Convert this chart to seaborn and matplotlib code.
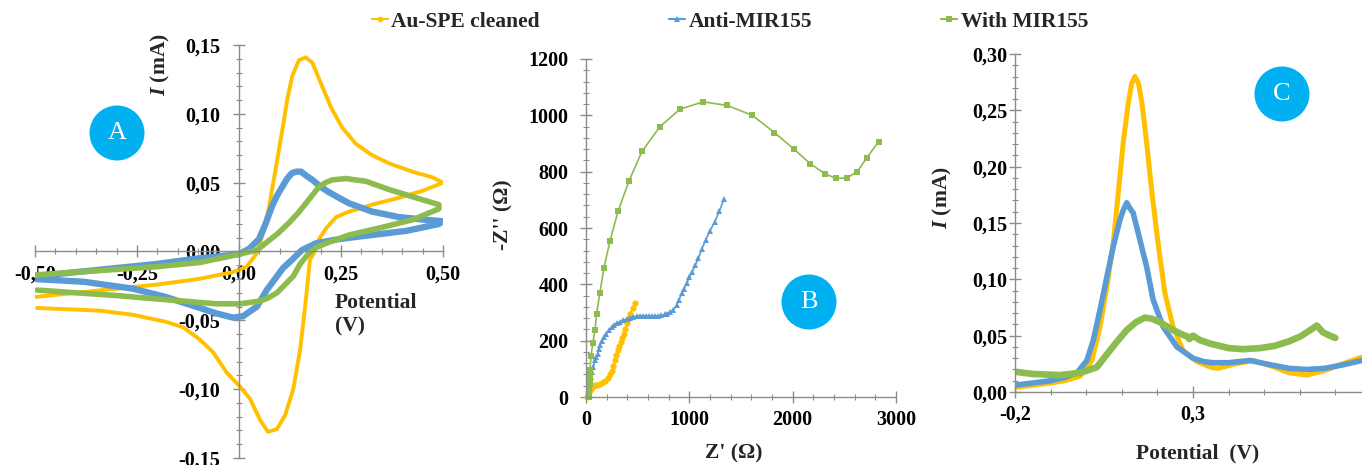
import matplotlib
matplotlib.use("Agg")
import matplotlib.pyplot as plt
import seaborn as sns
from matplotlib.ticker import MultipleLocator, FuncFormatter, FixedLocator
from matplotlib.patches import Ellipse
from matplotlib.lines import Line2D

# ---------------- data ----------------
series_names = ["Au-SPE cleaned", "Anti-MIR155", "With MIR155"]

# Panel A : cyclic voltammetry (potential V, current mA) - anodic then cathodic branch
cv_au_x = [-0.50, -0.40, -0.30, -0.20, -0.10, -0.015, 0.019, 0.044, 0.060, 0.074, 0.091, 0.106, 0.118, 0.130,
           0.147, 0.164, 0.180, 0.201, 0.225, 0.253, 0.287, 0.326, 0.368, 0.425, 0.473, 0.50,
           0.449, 0.392, 0.326, 0.270, 0.238, 0.214, 0.196, 0.184, 0.174, 0.162, 0.150, 0.133, 0.113, 0.093,
           0.071, 0.051, 0.027, 0.002, -0.030, -0.064, -0.096, -0.137, -0.18, -0.26, -0.34, -0.495]
cv_au_y = [-0.033, -0.030, -0.027, -0.024, -0.020, -0.015, -0.011, -0.001, 0.014, 0.033, 0.062, 0.088, 0.110,
           0.127, 0.139, 0.141, 0.137, 0.122, 0.105, 0.090, 0.078, 0.070, 0.064, 0.058, 0.054, 0.050,
           0.044, 0.039, 0.034, 0.029, 0.025, 0.017, 0.009, -0.001, -0.006, -0.040, -0.071, -0.100, -0.119,
           -0.129, -0.131, -0.122, -0.107, -0.098, -0.088, -0.073, -0.064, -0.055, -0.051, -0.046, -0.043, -0.041]
cv_anti_x = [-0.50, -0.40, -0.30, -0.20, -0.10, 0.00, 0.025, 0.049, 0.065, 0.081, 0.094, 0.106, 0.118, 0.130,
             0.141, 0.152, 0.165, 0.180, 0.200, 0.221, 0.245, 0.270, 0.326, 0.392, 0.458, 0.50,
             0.49, 0.41, 0.326, 0.245, 0.189, 0.154, 0.130, 0.108, 0.088, 0.068, 0.044, 0.010, -0.015, -0.055,
             -0.096, -0.18, -0.26, -0.38, -0.50]
cv_anti_y = [-0.018, -0.015, -0.012, -0.009, -0.005, -0.002, 0.002, 0.009, 0.020, 0.033, 0.041, 0.047, 0.053,
             0.057, 0.058, 0.058, 0.055, 0.052, 0.047, 0.043, 0.039, 0.035, 0.029, 0.025, 0.023, 0.022,
             0.020, 0.015, 0.012, 0.009, 0.006, 0.001, -0.006, -0.012, -0.020, -0.028, -0.040, -0.047, -0.048,
             -0.045, -0.041, -0.033, -0.027, -0.022, -0.020]
cv_with_x = [-0.50, -0.40, -0.30, -0.20, -0.096, -0.015, 0.044, 0.065, 0.095, 0.123, 0.145, 0.164, 0.180,
             0.196, 0.212, 0.228, 0.262, 0.311, 0.368, 0.434, 0.49,
             0.49, 0.425, 0.343, 0.270, 0.214, 0.190, 0.172, 0.150, 0.133, 0.113, 0.093, 0.070, 0.051, 0.002,
             -0.055, -0.096, -0.18, -0.30, -0.40, -0.495]
cv_with_y = [-0.017, -0.015, -0.013, -0.011, -0.008, -0.003, 0.001, 0.006, 0.013, 0.021, 0.028, 0.035, 0.041,
             0.047, 0.050, 0.052, 0.053, 0.051, 0.045, 0.039, 0.034,
             0.031, 0.023, 0.017, 0.012, 0.006, 0.003, -0.001, -0.009, -0.018, -0.024, -0.030, -0.034, -0.036,
             -0.038, -0.038, -0.037, -0.035, -0.032, -0.030, -0.028]

# Panel B : Nyquist plot (Z' ohm, -Z'' ohm)
eis_au_x = [5, 15, 25, 35, 45, 55, 70, 90, 110, 135, 160, 185, 210, 232, 250, 265, 281, 295, 306, 320, 335,
            350, 368, 381, 394, 410, 426, 450, 474]
eis_au_y = [0, 8, 16, 24, 30, 34, 38, 41, 44, 47, 52, 58, 66, 80, 94, 111, 130, 148, 166, 181, 196, 210, 225,
            243, 261, 278, 296, 315, 334]
eis_anti_x = [20, 30, 40, 50, 60, 71, 87, 100, 113, 124, 135, 150, 174, 198, 223, 247, 271, 300, 329, 362,
              394, 426, 458, 490, 520, 550, 580, 610, 640, 670, 700, 730, 760, 781, 813, 845, 877, 900, 926,
              950, 974, 1000, 1029, 1058, 1087, 1120, 1158, 1200, 1248, 1290, 1335]
eis_anti_y = [0, 20, 45, 70, 90, 107, 130, 142, 154, 170, 184, 200, 213, 225, 237, 247, 255, 262, 267, 272,
              276, 280, 285, 287, 288, 288, 288, 288, 288, 288, 288, 290, 293, 296, 302, 308, 326, 345, 368,
              385, 403, 425, 445, 468, 492, 525, 557, 590, 623, 660, 702]
eis_with_x = [25, 28, 30, 33, 35, 37, 39, 48, 65, 87, 103, 135, 174, 232, 310, 416, 542, 716, 910, 1135,
              1368, 1610, 1823, 2010, 2171, 2310, 2419, 2523, 2623, 2719, 2832]
eis_with_y = [0, 12, 25, 40, 55, 75, 95, 145, 190, 237, 296, 371, 459, 554, 659, 767, 872, 960, 1022, 1048,
              1035, 1000, 939, 881, 828, 793, 776, 778, 799, 850, 907]

# Panel C : differential pulse voltammetry (potential V, current mA)
dpv_au_x = [-0.2, -0.15, -0.10, -0.06, -0.017, 0.016, 0.039, 0.058, 0.076, 0.090, 0.104, 0.118, 0.128, 0.137,
            0.147, 0.157, 0.170, 0.185, 0.202, 0.221, 0.244, 0.272, 0.311, 0.35, 0.37, 0.42, 0.47, 0.52, 0.57,
            0.62, 0.67, 0.72, 0.775]
dpv_au_y = [0.004, 0.006, 0.008, 0.010, 0.014, 0.028, 0.058, 0.093, 0.132, 0.176, 0.221, 0.256, 0.274, 0.280,
            0.274, 0.256, 0.221, 0.176, 0.132, 0.088, 0.058, 0.037, 0.027, 0.022, 0.021, 0.025, 0.028, 0.023,
            0.017, 0.015, 0.019, 0.025, 0.031]
dpv_anti_x = [-0.2, -0.15, -0.10, -0.06, -0.026, 0.002, 0.020, 0.039, 0.058, 0.076, 0.095, 0.105, 0.114,
              0.123, 0.132, 0.151, 0.170, 0.188, 0.216, 0.255, 0.300, 0.33, 0.356, 0.40, 0.46, 0.52, 0.57,
              0.62, 0.67, 0.72, 0.775]
dpv_anti_y = [0.006, 0.008, 0.010, 0.013, 0.017, 0.028, 0.046, 0.073, 0.102, 0.129, 0.153, 0.162, 0.168,
              0.163, 0.159, 0.135, 0.111, 0.082, 0.058, 0.040, 0.030, 0.027, 0.026, 0.026, 0.028, 0.024,
              0.021, 0.020, 0.021, 0.024, 0.028]
dpv_with_x = [-0.2, -0.15, -0.073, -0.017, 0.030, 0.067, 0.090, 0.114, 0.140, 0.165, 0.185, 0.207, 0.244,
              0.270, 0.286, 0.29, 0.30, 0.32, 0.348, 0.40, 0.44, 0.49, 0.53, 0.57, 0.60, 0.63, 0.648, 0.665,
              0.685, 0.70]
dpv_with_y = [0.018, 0.016, 0.015, 0.017, 0.022, 0.037, 0.046, 0.055, 0.062, 0.066, 0.065, 0.062, 0.055,
              0.051, 0.049, 0.047, 0.050, 0.046, 0.043, 0.039, 0.038, 0.039, 0.041, 0.045, 0.049, 0.055,
              0.059, 0.053, 0.050, 0.048]

# ---------------- style ----------------
sns.set_theme(style="white")
plt.rcParams['font.family'] = ['Liberation Serif', 'DejaVu Serif']
plt.rcParams['font.weight'] = 'bold'
plt.rcParams['mathtext.fontset'] = 'custom'
plt.rcParams['mathtext.it'] = 'Liberation Serif:italic:bold'
plt.rcParams['mathtext.rm'] = 'Liberation Serif:bold'

ORANGE = '#FFC000'
BLUE = '#5B9BD5'
GREEN = '#8CBB4E'
AXC = '#8C8C8C'
BADGE = '#00B0F0'
TICKFS = 14.5
LABFS = 15.5

W, H = 1362, 465
fig = plt.figure(figsize=(W / 100, H / 100), dpi=100)


def comma(dec):
    def f(v, p):
        if abs(v) < 1e-9:
            v = 0.0
        return f"{v:.{dec}f}".replace('.', ',')
    return FuncFormatter(f)


def style(ax, xpad, ypad):
    for s in ['top', 'right']:
        ax.spines[s].set_visible(False)
    for s in ['left', 'bottom']:
        ax.spines[s].set_color(AXC)
        ax.spines[s].set_linewidth(1.0)
    ax.tick_params(which='major', direction='inout', length=9, width=1, color=AXC,
                   labelsize=TICKFS, labelcolor='black')
    ax.tick_params(which='minor', direction='inout', length=5, width=0.8, color=AXC)
    ax.tick_params(axis='x', which='major', pad=xpad)
    ax.tick_params(axis='y', which='major', pad=ypad)
    ax.tick_params(left=True, bottom=True, which='both')
    ax.set_xlabel('')
    ax.set_ylabel('')
    ax.set_facecolor('none')
    ax.grid(False)


# ---------------- Panel A ----------------
axA = fig.add_axes([35 / W, 7 / H, 408 / W, 413 / H])
sns.lineplot(x=cv_au_x, y=cv_au_y, sort=False, estimator=None, ax=axA, color=ORANGE, linewidth=2.8)
sns.lineplot(x=cv_anti_x, y=cv_anti_y, sort=False, estimator=None, ax=axA, color=BLUE, linewidth=4.6)
sns.lineplot(x=cv_with_x, y=cv_with_y, sort=False, estimator=None, ax=axA, color=GREEN, linewidth=4.0)
axA.set_xlim(-0.5, 0.5)
axA.set_ylim(-0.15, 0.15)
axA.spines['left'].set_position('zero')
axA.spines['bottom'].set_position('zero')
axA.xaxis.set_major_locator(MultipleLocator(0.25))
axA.xaxis.set_minor_locator(MultipleLocator(0.05))
axA.yaxis.set_major_locator(MultipleLocator(0.05))
axA.yaxis.set_minor_locator(MultipleLocator(0.01))
axA.xaxis.set_major_formatter(comma(2))
axA.yaxis.set_major_formatter(comma(2))
style(axA, 5, 9)

fig.text(160 / W, 1 - 65 / H, r"$I$ (mA)", rotation=90, ha='center', va='center', fontsize=LABFS)
fig.text(335 / W, 1 - 293 / H, "Potential\n(V)", ha='left', va='top', fontsize=LABFS, linespacing=1.25)

# ---------------- Panel B ----------------
axB = fig.add_axes([586 / W, 68 / H, 310 / W, 338 / H])
sns.lineplot(x=eis_au_x, y=eis_au_y, sort=False, estimator=None, ax=axB, color=ORANGE, linewidth=1.2,
             marker='o', markersize=4.5, markeredgewidth=0)
sns.lineplot(x=eis_anti_x, y=eis_anti_y, sort=False, estimator=None, ax=axB, color=BLUE, linewidth=1.2,
             marker='^', markersize=4.5, markeredgewidth=0)
sns.lineplot(x=eis_with_x, y=eis_with_y, sort=False, estimator=None, ax=axB, color=GREEN, linewidth=1.2,
             marker='s', markersize=5, markeredgewidth=0)
axB.set_xlim(0, 3000)
axB.set_ylim(0, 1200)
axB.xaxis.set_major_locator(MultipleLocator(1000))
axB.xaxis.set_minor_locator(MultipleLocator(200))
axB.yaxis.set_major_locator(MultipleLocator(200))
axB.yaxis.set_minor_locator(MultipleLocator(40))
axB.xaxis.set_major_formatter(FuncFormatter(lambda v, p: f"{v:.0f}"))
axB.yaxis.set_major_formatter(FuncFormatter(lambda v, p: f"{v:.0f}"))
style(axB, 5, 8)
for ln in axB.lines:
    ln.set_clip_on(False)

fig.text(503 / W, 1 - 215 / H, "-Z'' (Ω)", rotation=90, ha='center', va='center', fontsize=LABFS)
fig.text(734 / W, 1 - 453 / H, "Z' (Ω)", ha='center', va='center', fontsize=LABFS)

# ---------------- Panel C ----------------
axC = fig.add_axes([1015 / W, 73 / H, 347 / W, 338 / H])
sns.lineplot(x=dpv_au_x, y=dpv_au_y, sort=False, estimator=None, ax=axC, color=ORANGE, linewidth=3.6)
sns.lineplot(x=dpv_anti_x, y=dpv_anti_y, sort=False, estimator=None, ax=axC, color=BLUE, linewidth=4.0)
sns.lineplot(x=dpv_with_x, y=dpv_with_y, sort=False, estimator=None, ax=axC, color=GREEN, linewidth=4.8)
axC.set_xlim(-0.2, 0.775)
axC.set_ylim(0, 0.30)
axC.xaxis.set_major_locator(FixedLocator([-0.2, 0.3]))
axC.xaxis.set_minor_locator(MultipleLocator(0.1))
axC.yaxis.set_major_locator(MultipleLocator(0.05))
axC.yaxis.set_minor_locator(MultipleLocator(0.01))
axC.xaxis.set_major_formatter(comma(1))
axC.yaxis.set_major_formatter(comma(2))
style(axC, 4.5, 0.8)

fig.text(942 / W, 1 - 198 / H, r"$I$ (mA)", rotation=90, ha='center', va='center', fontsize=LABFS)
fig.text(1198 / W, 1 - 453 / H, "Potential  (V)", ha='center', va='center', fontsize=LABFS)

# ---------------- badges ----------------
for (cx, cy, letter) in [(117, 133, "A"), (809, 302, "B"), (1282, 94, "C")]:
    e = Ellipse((cx / W, 1 - cy / H), 55 / W, 55 / H, transform=fig.transFigure,
                facecolor=BADGE, edgecolor='none', zorder=5)
    fig.add_artist(e)
    fig.text(cx / W, 1 - cy / H, letter, ha='center', va='center', color='white',
             fontsize=19, fontweight='normal', zorder=6)

# ---------------- legend ----------------
handles = [
    Line2D([0], [0], color=ORANGE, lw=1.5, marker='o', markersize=4, markeredgewidth=0),
    Line2D([0], [0], color=BLUE, lw=1.5, marker='^', markersize=4, markeredgewidth=0),
    Line2D([0], [0], color=GREEN, lw=1.5, marker='s', markersize=4, markeredgewidth=0),
]
fig.legend(handles, series_names, loc='center', bbox_to_anchor=(0.536, 1 - 22 / H), ncol=3,
           frameon=False, fontsize=LABFS, handlelength=0.75, handletextpad=0.15, columnspacing=6.0,
           borderpad=0.2)

fig.savefig("out.png", dpi=100)
